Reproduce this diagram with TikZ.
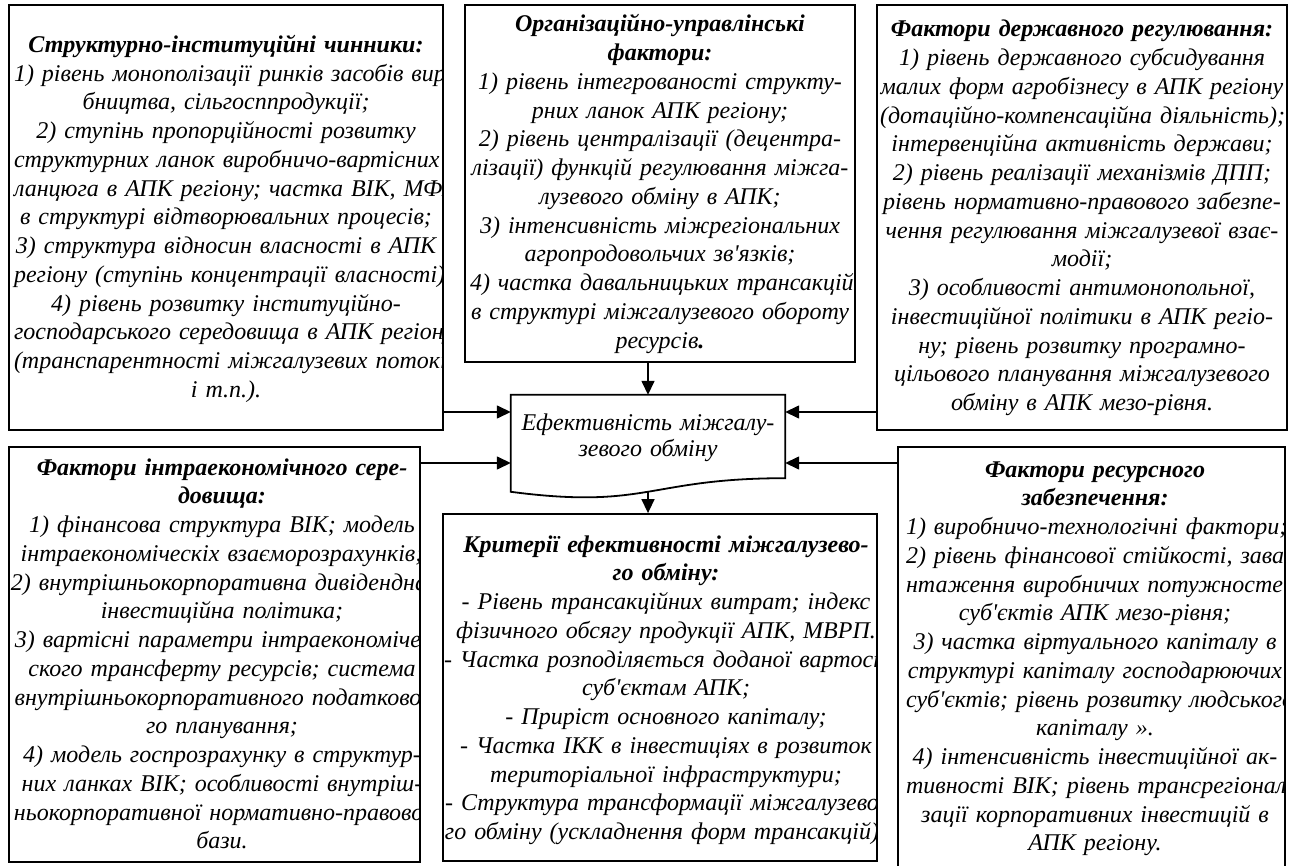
\documentclass[tikz,border=0pt]{standalone}
\usepackage{fontspec}
\setmainfont{Liberation Serif}
\usetikzlibrary{arrows.meta,calc}
\newcommand\Rw[1]{\mbox{#1}}
\tikzset{
  box/.style={draw, line width=1.8pt, inner sep=0pt},
  txt/.style={align=center, inner sep=0pt, anchor=base,
    font=\fontsize{24}{28.75}\selectfont\itshape},
  arr/.style={line width=1.5pt, -{Triangle[length=14pt,width=13pt]}}
}
\begin{document}
\begin{tikzpicture}[x=1pt,y=-1pt]
\useasboundingbox (0,0) rectangle (1290,866);
\fill[white] (0,0) rectangle (1290,866);

% boxes
\node[box, minimum width=434pt, minimum height=425pt] (tl) at (226,217.5) {};
\node[box, minimum width=390pt, minimum height=357pt] (tc) at (660,183.5) {};
\node[box, minimum width=410pt, minimum height=425pt] (tr) at (1082,217.5) {};
\node[box, minimum width=411pt, minimum height=415pt] (bl) at (214.5,654.5) {};
\node[box, minimum width=434pt, minimum height=347pt] (cr) at (660,687.5) {};
\node[box, minimum width=387pt, minimum height=433pt] (br) at (1091.5,663.5) {};

% centre (document shape)
\node[inner sep=0pt, minimum width=274pt, minimum height=83pt] (ce) at (648,436.5) {};
\draw[line width=1.8pt] (ce.north west) -- (ce.north east) -- (ce.south east)
  .. controls (ce.south) and ($(ce.south)+(0,31.6)$) .. ($(ce.south west)+(0,13.6)$) -- cycle;
\node[txt, text width=272pt, font=\fontsize{24}{26.7}\selectfont\itshape] (cetext) at (648,430)
  {Ефективність міжгалу-\\зевого обміну};

% texts
\begin{scope}
\clip (tl.north west) rectangle (tl.south east);
\node[txt, text width=424pt] (tltext) at (226,52.5) {%
\Rw{\textbf{Структурно-інституційні чинники:}}\\
\Rw{1) рівень монополізації ринків засобів виро-}\\
\Rw{бництва, сільгосппродукції;}\\
\Rw{2) ступінь пропорційності розвитку}\\
\Rw{структурних ланок виробничо-вартісних}\\
\Rw{ланцюга в АПК регіону; частка ВІК, МФХ}\\
\Rw{в структурі відтворювальних процесів;}\\
\Rw{3) структура відносин власності в АПК}\\
\Rw{регіону (ступінь концентрації власності);}\\
\Rw{4) рівень розвитку інституційно-}\\
\Rw{господарського середовища в АПК регіону}\\
\Rw{(транспарентності міжгалузевих потоків,}\\
\Rw{і т.п.).}};
\end{scope}

\begin{scope}
\clip (tc.north west) rectangle (tc.south east);
\node[txt, text width=380pt] (tctext) at (660,32) {%
\Rw{\textbf{Організаційно-управлінські}}\\
\Rw{\textbf{фактори:}}\\
\Rw{1) рівень інтегрованості структу-}\\
\Rw{рних ланок АПК регіону;}\\
\Rw{2) рівень централізації (децентра-}\\
\Rw{лізації) функцій регулювання міжга-}\\
\Rw{лузевого обміну в АПК;}\\
\Rw{3) інтенсивність міжрегіональних}\\
\Rw{агропродовольчих зв\textquotesingle язків;}\\
\Rw{4) частка давальницьких трансакцій}\\
\Rw{в структурі міжгалузевого обороту}\\
\Rw{ресурсів\textbf{.}}};
\end{scope}

\begin{scope}
\clip (tr.north west) rectangle (tr.south east);
\node[txt, text width=404pt] (trtext) at (1082,37) {%
\Rw{\textbf{Фактори державного регулювання:}}\\
\Rw{1) рівень державного субсидування}\\
\Rw{малих форм агробізнесу в АПК регіону}\\
\Rw{(дотаційно-компенсаційна діяльність);}\\
\Rw{інтервенційна активність держави;}\\
\Rw{2) рівень реалізації механізмів ДПП;}\\
\Rw{рівень нормативно-правового забезпе-}\\
\Rw{чення регулювання міжгалузевої взає-}\\
\Rw{модії;}\\
\Rw{3) особливості антимонопольної,}\\
\Rw{інвестиційної політики в АПК регіо-}\\
\Rw{ну; рівень розвитку програмно-}\\
\Rw{цільового планування міжгалузевого}\\
\Rw{обміну в АПК мезо-рівня.}};
\end{scope}

\begin{scope}
\clip (bl.north west) rectangle (bl.south east);
\node[txt, text width=424pt] (bltext) at (222,475) {%
\Rw{\textbf{Фактори інтраекономічного сере-}}\\
\Rw{\textbf{довища:}}\\
\Rw{1) фінансова структура ВІК; модель}\\
\Rw{інтраекономіческіх взаєморозрахунків;}\\
\Rw{2) внутрішньокорпоративна дивідендна,}\\
\Rw{інвестиційна політика;}\\
\Rw{3) вартісні параметри інтраекономіче-}\\
\Rw{ского трансферту ресурсів; система}\\
\Rw{внутрішньокорпоративного податково-}\\
\Rw{го планування;}\\
\Rw{4) модель госпрозрахунку в структур-}\\
\Rw{них ланках ВІК; особливості внутріш-}\\
\Rw{ньокорпоративної нормативно-правової}\\
\Rw{бази.}};
\end{scope}

\begin{scope}
\clip (cr.north west) rectangle (cr.south east);
\node[txt, text width=444pt] (crtext) at (666,552) {%
\Rw{\textbf{Критерії ефективності міжгалузево-}}\\
\Rw{\textbf{го обміну:}}\\
\Rw{- Рівень трансакційних витрат; індекс}\\
\Rw{фізичного обсягу продукції АПК, МВРП.}\\
\Rw{- Частка розподіляється доданої вартості}\\
\Rw{суб\textquotesingle єктам АПК;}\\
\Rw{- Приріст основного капіталу;}\\
\Rw{- Частка ІКК в інвестиціях в розвиток}\\
\Rw{територіальної інфраструктури;}\\
\Rw{- Структура трансформації міжгалузево-}\\
\Rw{го обміну (ускладнення форм трансакцій);}};
\end{scope}

\begin{scope}
\clip (br.north west) rectangle (br.south east);
\node[txt, text width=378pt] (brtext) at (1095,477) {%
\Rw{\textbf{Фактори ресурсного}}\\
\Rw{\textbf{забезпечення:}}\\
\Rw{1) виробничо-технологічні фактори;}\\
\Rw{2) рівень фінансової стійкості, зава-}\\
\Rw{нтаження виробничих потужностей}\\
\Rw{суб\textquotesingle єктів АПК мезо-рівня;}\\
\Rw{3) частка віртуального капіталу в}\\
\Rw{структурі капіталу господарюючих}\\
\Rw{суб\textquotesingle єктів; рівень розвитку людського}\\
\Rw{капіталу ».}\\
\Rw{4) інтенсивність інвестиційної ак-}\\
\Rw{тивності ВІК; рівень трансрегіоналі-}\\
\Rw{зації корпоративних інвестицій в}\\
\Rw{АПК регіону.}};
\end{scope}

% connectors
\coordinate (cL1) at ($(ce.west)+(0,-24.5)$);
\coordinate (cL2) at ($(ce.west)+(0,26.5)$);
\coordinate (cR1) at ($(ce.east)+(0,-24.5)$);
\coordinate (cR2) at ($(ce.east)+(0,26.5)$);
\coordinate (cB) at ($(ce.south)+(0,13.5)$);
\draw[arr] (tl.east |- cL1) -- (cL1);
\draw[arr] (bl.east |- cL2) -- (cL2);
\draw[arr] (tr.west |- cR1) -- (cR1);
\draw[arr] (br.west |- cR2) -- (cR2);
\draw[arr] (ce.north |- tc.south) -- (ce.north);
\draw[arr] (cB) -- (cB |- cr.north);
\end{tikzpicture}
\end{document}
